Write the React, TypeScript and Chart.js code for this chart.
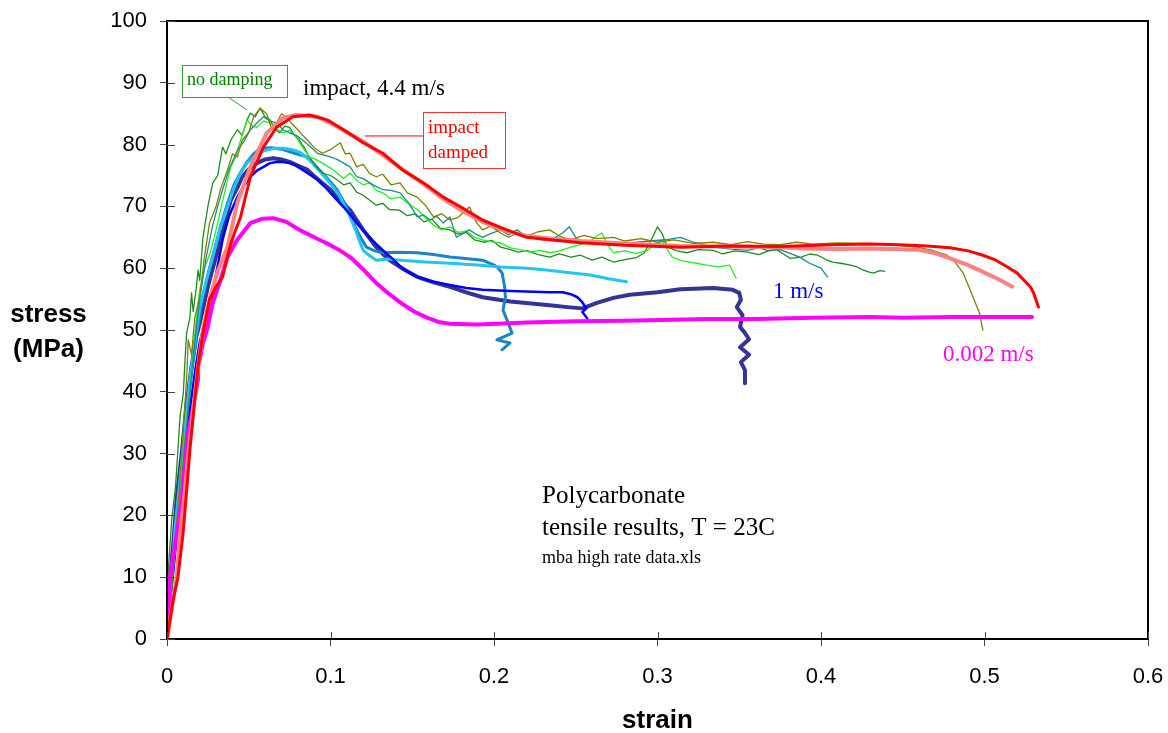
import React, { useEffect, useRef } from 'react';
import { Chart, registerables } from 'chart.js';

Chart.register(...registerables);

type P = [number, number];

// ---- data (strain, stress MPa) ----
const redDamped: P[] = [
  [0, 0], [0.0037, 6.3], [0.0067, 10], [0.0098, 17], [0.0122, 24.6], [0.014, 30.6], [0.017, 38.7], [0.019, 44],
  [0.022, 49.5], [0.026, 54.9], [0.03, 57], [0.034, 58.6], [0.038, 63], [0.041, 65.5], [0.045, 68.3], [0.051, 74.8],
  [0.059, 79.6], [0.067, 82.8], [0.077, 84.5], [0.087, 84.8], [0.098, 84], [0.108, 82.4], [0.12, 80.3], [0.132, 78.6],
  [0.144, 75.9], [0.157, 73.8], [0.169, 71.5], [0.181, 69.7], [0.193, 67.8], [0.205, 66.5], [0.22, 65], [0.234, 64.6],
  [0.253, 64.1], [0.28, 63.7], [0.314, 63.4], [0.345, 63.6], [0.375, 63.5], [0.407, 63.8], [0.43, 63.9], [0.448, 63.8],
  [0.465, 63.6], [0.479, 63.3], [0.49, 62.8], [0.499, 62.1], [0.507, 61.3], [0.514, 60.2], [0.52, 59.2], [0.524, 58.1],
  [0.528, 57], [0.53, 56], [0.532, 54.5], [0.533, 53.7],
];

const salmonDamped: P[] = [
  [0, 0], [0.003, 5], [0.006, 10], [0.008, 17], [0.011, 24], [0.013, 30], [0.016, 37], [0.019, 44], [0.022, 50],
  [0.026, 55], [0.031, 59.5], [0.037, 63.4], [0.043, 70.6], [0.051, 76.4], [0.061, 81.9], [0.071, 84.3], [0.079, 84.8],
  [0.092, 84.5], [0.1, 83.5], [0.11, 82], [0.12, 80.5], [0.132, 78.3], [0.144, 76], [0.157, 73.6], [0.169, 71.2],
  [0.181, 69.2], [0.193, 67.5], [0.205, 66.2], [0.22, 65.2], [0.234, 64.8], [0.253, 64.4], [0.28, 64], [0.314, 63.6],
  [0.345, 63.5], [0.375, 63.4], [0.39, 63.2], [0.41, 63.1], [0.428, 63.2], [0.445, 63.1], [0.459, 63], [0.47, 62.4],
  [0.479, 61.6], [0.49, 60.5], [0.499, 59.4], [0.508, 58.3], [0.517, 57],
];

const darkGreen: P[] = [
  [0, 0], [0.001, 6], [0.001, 12], [0.003, 19.7], [0.005, 24], [0.006, 27.8], [0.008, 36], [0.01, 39.8], [0.011, 45],
  [0.012, 49.5], [0.014, 52], [0.015, 56], [0.016, 53], [0.018, 57], [0.019, 59.7], [0.02, 58], [0.022, 65], [0.025, 70],
  [0.028, 73.8], [0.031, 75], [0.034, 79.6], [0.036, 78.5], [0.039, 80.7], [0.043, 82.4], [0.046, 81.5], [0.049, 84],
  [0.051, 85.1], [0.054, 84.5], [0.057, 85.9], [0.06, 84.5], [0.063, 84], [0.066, 82.5], [0.069, 81.9], [0.072, 83],
  [0.075, 82.8], [0.078, 81.5], [0.081, 80.7], [0.084, 79.5], [0.087, 78], [0.091, 76.5], [0.095, 75.4], [0.1, 75],
  [0.104, 74.3], [0.108, 73.5], [0.112, 73.8], [0.116, 72.3], [0.12, 71.8], [0.124, 71], [0.128, 70.2], [0.132, 70.5],
  [0.136, 69.5], [0.142, 69.4], [0.147, 68.5], [0.152, 68.8], [0.157, 67.5], [0.162, 67.9], [0.167, 66.5], [0.173, 66.2],
  [0.178, 65.5], [0.183, 65.8], [0.188, 64.6], [0.194, 64.2], [0.199, 64.5], [0.204, 63.4], [0.21, 63], [0.215, 62.6],
  [0.22, 62.9], [0.227, 62.2], [0.234, 61.8], [0.24, 62.3], [0.247, 61.8], [0.253, 62.1], [0.26, 61.3], [0.266, 61.8],
  [0.273, 61], [0.28, 61.4], [0.287, 61.7], [0.292, 62.5], [0.297, 65], [0.3, 66.7], [0.303, 65.5], [0.306, 63.4],
  [0.312, 62.8], [0.318, 62.5], [0.325, 63], [0.334, 62.9], [0.34, 62.3], [0.347, 62.8], [0.355, 62.6], [0.362, 62.2],
  [0.368, 62.8], [0.373, 63], [0.377, 62.3], [0.381, 61.6], [0.388, 61.8], [0.393, 62.3], [0.398, 62.1], [0.403, 61.4],
  [0.407, 61], [0.412, 60.8], [0.418, 60.5], [0.422, 60.2], [0.426, 59.7], [0.429, 59.4], [0.432, 59.2], [0.436, 59.6],
  [0.439, 59.5],
];

const brightGreen: P[] = [
  [0, 0], [0.002, 5], [0.004, 12], [0.007, 20], [0.01, 30], [0.013, 38], [0.016, 46], [0.018, 52], [0.02, 56.5],
  [0.023, 60], [0.027, 63], [0.031, 67.3], [0.035, 72], [0.039, 76.4], [0.042, 78], [0.045, 80.7], [0.049, 84],
  [0.052, 83], [0.055, 82.8], [0.059, 83.8], [0.063, 83.5], [0.067, 82.5], [0.071, 81.9], [0.075, 82.3], [0.079, 81.2],
  [0.083, 79.5], [0.087, 78], [0.091, 77.6], [0.095, 77], [0.1, 76.2], [0.104, 75.4], [0.108, 74.5], [0.112, 75.4],
  [0.116, 74.2], [0.12, 73.5], [0.124, 73.8], [0.128, 72.6], [0.132, 72.2], [0.137, 71.2], [0.1425, 71.5], [0.148, 70.4],
  [0.153, 69.5], [0.158, 68.2], [0.163, 67], [0.168, 66.2], [0.173, 66.7], [0.178, 65.8], [0.183, 66], [0.188, 65],
  [0.193, 64.6], [0.198, 64.3], [0.204, 64.1], [0.21, 63.3], [0.216, 63], [0.222, 62.6], [0.228, 62.9], [0.234, 62.5],
  [0.24, 62.8], [0.247, 63.4], [0.253, 63.8], [0.258, 64.2], [0.263, 65.2], [0.266, 65.7], [0.269, 64], [0.273, 62.5],
  [0.28, 62.8], [0.287, 62.4], [0.294, 62.9], [0.298, 63.8], [0.303, 64.5], [0.306, 63], [0.309, 61.8], [0.315, 61.2],
  [0.324, 60.8], [0.33, 60.5], [0.338, 60.2], [0.344, 60.5], [0.346, 59.5], [0.348, 58.4],
];

const olive: P[] = [
  [0, 0], [0.002, 6], [0.004, 13], [0.007, 22.5], [0.009, 30], [0.01, 34.3], [0.012, 42], [0.013, 48.4], [0.015, 46],
  [0.017, 52], [0.02, 55.3], [0.023, 62], [0.026, 67.3], [0.03, 70], [0.033, 73], [0.037, 75.9], [0.04, 78.5], [0.043, 78],
  [0.046, 80.7], [0.05, 82], [0.053, 84.5], [0.057, 85.9], [0.061, 85], [0.064, 82.5], [0.067, 83.5], [0.07, 85],
  [0.073, 84.5], [0.076, 83.5], [0.08, 82.4], [0.083, 81.5], [0.086, 80.7], [0.09, 79.5], [0.095, 78.6], [0.1, 79.2],
  [0.106, 80.3], [0.109, 78.5], [0.112, 78.6], [0.116, 76.4], [0.12, 76.8], [0.124, 75.3], [0.128, 74.8], [0.132, 75.2],
  [0.137, 73.5], [0.1425, 73.8], [0.147, 72.2], [0.153, 71.5], [0.158, 70.2], [0.163, 68.3], [0.168, 68.8], [0.173, 67.8],
  [0.178, 68.2], [0.185, 69.9], [0.189, 67.5], [0.193, 66.2], [0.198, 66.8], [0.204, 65.7], [0.209, 65], [0.214, 65.7],
  [0.22, 65.2], [0.227, 65.9], [0.234, 66.2], [0.24, 65.2], [0.247, 64.6], [0.255, 65.3], [0.263, 64.8], [0.273, 65],
  [0.28, 64.4], [0.29, 64.8], [0.3, 64.2], [0.31, 64.6], [0.322, 64], [0.334, 64.2], [0.345, 63.8], [0.355, 64.3],
  [0.365, 63.9], [0.375, 63.8], [0.385, 64.2], [0.395, 63.9], [0.41, 64.1], [0.428, 64], [0.44, 63.8], [0.45, 63.6],
  [0.459, 63.4], [0.468, 62.9], [0.477, 62.1], [0.482, 61], [0.487, 59.2], [0.49, 57.3], [0.493, 55.3], [0.497, 52.7],
  [0.499, 50],
];

const teal: P[] = [
  [0, 0], [0.002, 6], [0.005, 14], [0.008, 22], [0.011, 32], [0.014, 40], [0.017, 48], [0.02, 55], [0.024, 61.8],
  [0.028, 67], [0.031, 70], [0.034, 72.7], [0.038, 76], [0.043, 79.1], [0.047, 80.5], [0.051, 82.4], [0.055, 83.5],
  [0.059, 84.5], [0.063, 83.8], [0.067, 83.5], [0.071, 82.4], [0.075, 81.9], [0.079, 81.5], [0.083, 80.7], [0.087, 79.8],
  [0.092, 78.6], [0.096, 78.3], [0.1, 78], [0.104, 77.6], [0.108, 77], [0.112, 76.4], [0.116, 74.8], [0.12, 74.5],
  [0.124, 73.8], [0.128, 73.2], [0.132, 72.7], [0.137, 72.6], [0.1425, 72.2], [0.148, 70.5], [0.153, 68.3], [0.157, 68.6],
  [0.161, 67.8], [0.165, 68.4], [0.169, 67.3], [0.173, 68.3], [0.177, 65], [0.181, 65.6], [0.185, 66.2], [0.189, 65.5],
  [0.193, 65], [0.198, 65.6], [0.204, 66.2], [0.209, 65.4], [0.214, 66.2], [0.219, 65.3], [0.224, 65], [0.229, 64.6],
  [0.234, 64.6], [0.239, 65.2], [0.242, 65.7], [0.246, 66.7], [0.25, 65], [0.253, 64.1], [0.26, 64.5], [0.27, 63.8],
  [0.283, 64.1], [0.295, 64.4], [0.305, 64.6], [0.314, 65], [0.322, 64.2], [0.334, 63.4], [0.345, 63.1], [0.355, 62.9],
  [0.362, 63.3], [0.367, 62.9], [0.375, 63], [0.381, 62.4], [0.387, 61.8], [0.393, 60.8], [0.4, 60], [0.402, 59.3],
  [0.404, 58.6],
];

const cyan: P[] = [
  [0, 0], [0.001, 5], [0.003, 10], [0.005, 18], [0.008, 26], [0.011, 34], [0.014, 42], [0.017, 48], [0.02, 53.7],
  [0.024, 58], [0.028, 61.8], [0.032, 66], [0.037, 69.9], [0.041, 73], [0.045, 75.4], [0.049, 77], [0.053, 78],
  [0.057, 78.8], [0.061, 79.1], [0.066, 79.4], [0.071, 79.4], [0.076, 79.2], [0.081, 78.8], [0.085, 78], [0.089, 77],
  [0.093, 75.8], [0.098, 74.3], [0.102, 73], [0.106, 71.5], [0.109, 69.8], [0.112, 68.3], [0.114, 67], [0.116, 65.7],
  [0.118, 64.2], [0.12, 62.9], [0.124, 62], [0.128, 61.3], [0.135, 61.5], [0.143, 61.3], [0.158, 61], [0.173, 60.8],
  [0.19, 60.5], [0.204, 60.2], [0.22, 60], [0.232, 59.7], [0.245, 59.3], [0.259, 58.9], [0.27, 58.3], [0.281, 57.8],
];

const steelBlue: P[] = [
  [0, 0], [0.001, 5], [0.003, 12], [0.006, 20], [0.009, 28], [0.012, 36], [0.015, 43], [0.018, 49], [0.021, 54],
  [0.025, 59], [0.029, 63], [0.033, 67], [0.037, 70.5], [0.041, 73.5], [0.045, 75.5], [0.049, 77.2], [0.053, 78.5],
  [0.057, 79.4], [0.064, 79.5], [0.071, 79.2], [0.078, 78.6], [0.086, 78], [0.09, 76.8], [0.095, 75.4], [0.1, 74],
  [0.104, 72.7], [0.107, 71.3], [0.11, 69.9], [0.113, 68], [0.116, 66.2], [0.119, 64.7], [0.122, 63.4], [0.127, 62.8],
  [0.132, 62.5], [0.141, 62.6], [0.153, 62.5], [0.163, 62.2], [0.173, 61.8], [0.181, 61.6], [0.193, 61.3], [0.2, 60.5],
  [0.202, 60.2], [0.205, 59.2], [0.2065, 57], [0.207, 55.3], [0.2055, 53.2], [0.208, 51.6], [0.211, 49.5], [0.2018, 48.4],
  [0.2098, 47.9], [0.2049, 46.8],
];

const blue: P[] = [
  [0, 0], [0.002, 6], [0.005, 14], [0.008, 22], [0.011, 30], [0.014, 37], [0.017, 43], [0.02, 48], [0.023, 51],
  [0.026, 53.7], [0.03, 59], [0.034, 64.6], [0.038, 68.5], [0.043, 71.5], [0.047, 73.3], [0.051, 74.8], [0.055, 75.8],
  [0.059, 76.4], [0.063, 77], [0.067, 77.2], [0.071, 77.2], [0.075, 77], [0.079, 76.6], [0.083, 75.9], [0.087, 75.2],
  [0.092, 74.3], [0.096, 73.3], [0.1, 72.2], [0.104, 71], [0.108, 69.9], [0.112, 68.7], [0.116, 67.3], [0.12, 66.1],
  [0.124, 65], [0.128, 63.9], [0.132, 62.9], [0.138, 61.5], [0.143, 60.2], [0.148, 59.3], [0.153, 58.6], [0.163, 57.8],
  [0.173, 57.3], [0.183, 56.8], [0.193, 56.5], [0.21, 56.3], [0.234, 56.1], [0.242, 56.1], [0.247, 55.8], [0.251, 55.3],
  [0.254, 54.5], [0.2565, 53.5], [0.254, 52.9], [0.257, 51.9],
];

const navy: P[] = [
  [0, 0], [0.001, 4], [0.002, 10], [0.004, 16], [0.006, 23], [0.009, 30], [0.012, 38], [0.015, 44], [0.018, 49],
  [0.02, 51.1], [0.025, 57], [0.031, 62.9], [0.035, 67], [0.039, 71], [0.043, 73], [0.046, 74.8], [0.05, 76],
  [0.055, 77], [0.06, 77.6], [0.065, 77.8], [0.07, 77.6], [0.075, 77.2], [0.08, 76.6], [0.086, 75.9], [0.09, 74.9],
  [0.095, 73.8], [0.1, 72.7], [0.104, 71.5], [0.108, 70.5], [0.112, 69.4], [0.116, 67.8], [0.12, 66.2], [0.124, 64.8],
  [0.128, 63.4], [0.132, 62.3], [0.136, 61.3], [0.145, 59.8], [0.153, 58.6], [0.163, 57.7], [0.173, 57], [0.183, 56.1],
  [0.193, 55.3], [0.21, 54.6], [0.234, 54], [0.245, 53.7], [0.254, 53.5], [0.263, 54.4], [0.273, 55.2], [0.283, 55.7],
  [0.3, 56.1], [0.314, 56.6], [0.334, 56.8], [0.346, 56.5], [0.35, 56], [0.351, 54.9], [0.3485, 53.7], [0.352, 52.4],
  [0.3505, 50.5], [0.3535, 49.5], [0.356, 48.5], [0.3505, 47.2], [0.356, 46], [0.351, 44.8], [0.3535, 43.5], [0.3535, 41.4],
];

const magenta: P[] = [
  [0, 0], [0.0018, 10], [0.008, 20.4], [0.0098, 24.6], [0.0128, 33.3], [0.0153, 36.6], [0.019, 42], [0.019, 44],
  [0.022, 47.9], [0.0245, 50], [0.028, 54.4], [0.032, 57.5], [0.037, 61.8], [0.043, 64.6], [0.051, 67.3], [0.058, 68],
  [0.065, 68.1], [0.073, 67.5], [0.081, 66.2], [0.09, 65], [0.098, 64], [0.105, 63], [0.112, 61.8], [0.12, 59.8],
  [0.128, 57.6], [0.135, 56], [0.143, 54.4], [0.151, 53], [0.159, 52], [0.166, 51.3], [0.173, 51], [0.19, 50.9],
  [0.202, 51], [0.22, 51.2], [0.25, 51.4], [0.28, 51.5], [0.302, 51.6], [0.33, 51.8], [0.36, 51.8], [0.395, 52],
  [0.43, 52.1], [0.45, 52], [0.48, 52.1], [0.5, 52.1], [0.529, 52.1],
];

const xTicks = [0, 0.1, 0.2, 0.3, 0.4, 0.5, 0.6];
const yTicks = [0, 10, 20, 30, 40, 50, 60, 70, 80, 90, 100];

// series styling (kept apart from the values)
const seriesStyle = [
  { data: redDamped, color: '#FF0000', width: 3 },
  { data: salmonDamped, color: '#FF8080', width: 4 },
  { data: magenta, color: '#FF00FF', width: 4 },
  { data: olive, color: '#808000', width: 1.3 },
  { data: teal, color: '#1A8C8C', width: 1.3 },
  { data: brightGreen, color: '#22EE22', width: 1.3 },
  { data: darkGreen, color: '#1E8C1E', width: 1.3 },
  { data: blue, color: '#0000FF', width: 2.5 },
  { data: cyan, color: '#22C4F4', width: 3 },
  { data: steelBlue, color: '#1A84C4', width: 3 },
  { data: navy, color: '#333399', width: 4 },
];

// annotation texts (positions in data units)
const labels = [
  { text: 'impact, 4.4 m/s', x: 0.0832, y: 88.0, color: '#000000', size: 23 },
  { text: '1 m/s', x: 0.3706, y: 55.2, color: '#0000FF', size: 23 },
  { text: '0.002 m/s', x: 0.4746, y: 45.0, color: '#FF00FF', size: 23 },
  { text: 'Polycarbonate', x: 0.2294, y: 22.0, color: '#000000', size: 25 },
  { text: 'tensile results, T = 23C', x: 0.2294, y: 16.8, color: '#000000', size: 25 },
  { text: 'mba high rate data.xls', x: 0.2294, y: 12.3, color: '#000000', size: 18 },
  { text: 'no damping', x: 0.0122, y: 89.6, color: '#008000', size: 18 },
  { text: 'impact', x: 0.1596, y: 81.9, color: '#FF0000', size: 19 },
  { text: 'damped', x: 0.1596, y: 77.8, color: '#FF0000', size: 19 },
];
const boxes = [
  { x1: 0.0092, x2: 0.0734, y1: 92.9, y2: 87.7, color: '#33A033' },
  { x1: 0.1566, x2: 0.2067, y1: 85.3, y2: 76.2, color: '#FF3030' },
];
const leaders = [
  { x1: 0.0373, y1: 87.7, x2: 0.0489, y2: 85.6, color: '#33A033' },
  { x1: 0.1211, y1: 81.4, x2: 0.1566, y2: 81.4, color: '#FF0000' },
];

const SANS = '"Liberation Sans", Arial, sans-serif';
const SERIF = '"Liberation Serif", "Times New Roman", serif';

const overlay = {
  id: 'overlay',
  afterDraw(chart: any) {
    const { ctx, chartArea: a, scales } = chart;
    const xs = scales.x;
    const ys = scales.y;
    const px = (v: number) => xs.getPixelForValue(v);
    const py = (v: number) => ys.getPixelForValue(v);
    ctx.save();
    // frame
    ctx.strokeStyle = '#000';
    ctx.lineWidth = 2;
    ctx.strokeRect(a.left, a.top, a.right - a.left, a.bottom - a.top);
    // inner halves of the crossing tick marks
    ctx.strokeStyle = '#444';
    ctx.lineWidth = 1;
    xTicks.forEach((t) => {
      const x = Math.round(px(t)) + 0.5;
      ctx.beginPath();
      ctx.moveTo(x, a.bottom);
      ctx.lineTo(x, a.bottom - 7);
      ctx.stroke();
    });
    yTicks.forEach((t) => {
      const y = Math.round(py(t)) + 0.5;
      ctx.beginPath();
      ctx.moveTo(a.left, y);
      ctx.lineTo(a.left + 8, y);
      ctx.stroke();
    });
    // boxes and leader lines
    boxes.forEach((b) => {
      ctx.strokeStyle = b.color;
      ctx.lineWidth = 1;
      const x1 = Math.round(px(b.x1)) + 0.5;
      const y1 = Math.round(py(b.y1)) + 0.5;
      const x2 = Math.round(px(b.x2)) + 0.5;
      const y2 = Math.round(py(b.y2)) + 0.5;
      ctx.strokeRect(x1, y1, x2 - x1, y2 - y1);
    });
    leaders.forEach((l) => {
      ctx.strokeStyle = l.color;
      ctx.lineWidth = 1;
      ctx.beginPath();
      ctx.moveTo(px(l.x1), py(l.y1));
      ctx.lineTo(px(l.x2), py(l.y2));
      ctx.stroke();
    });
    // texts
    ctx.textBaseline = 'alphabetic';
    ctx.textAlign = 'left';
    labels.forEach((t) => {
      ctx.fillStyle = t.color;
      ctx.font = `${t.size}px ${SERIF}`;
      ctx.fillText(t.text, px(t.x), py(t.y));
    });
    // axis titles
    ctx.fillStyle = '#000';
    ctx.font = `bold 26px ${SANS}`;
    ctx.textAlign = 'center';
    ctx.fillText('stress', a.left - 118.5, a.top + 301);
    ctx.fillText('(MPa)', a.left - 118.5, a.top + 336);
    ctx.fillText('strain', (a.left + a.right) / 2, a.bottom + 89);
    ctx.restore();
  },
};

export default function App() {
  const ref = useRef<HTMLCanvasElement | null>(null);
  useEffect(() => {
    if (!ref.current) return;
    const chart = new Chart(ref.current, {
      type: 'scatter',
      data: {
        datasets: seriesStyle.map((s) => ({
          data: s.data.map(([x, y]) => ({ x, y })),
          showLine: true,
          borderColor: s.color,
          backgroundColor: s.color,
          borderWidth: s.width,
          pointRadius: 0,
          tension: 0,
          borderJoinStyle: 'round',
          borderCapStyle: 'round',
          fill: false,
        })),
      },
      options: {
        animation: false,
        responsive: false,
        devicePixelRatio: 1,
        events: [],
        layout: { padding: { top: 21, right: 20, left: 0, bottom: 0 } },
        plugins: { legend: { display: false }, tooltip: { enabled: false } },
        scales: {
          x: {
            type: 'linear',
            min: 0,
            max: 0.6,
            afterFit: (s: any) => {
              s.height = 94;
              s.paddingLeft = 0;
              s.paddingRight = 0;
            },
            afterBuildTicks: (s: any) => { s.ticks = xTicks.map((v) => ({ value: v })); },
            ticks: {
              font: { family: SANS, size: 22 },
              color: '#000',
              padding: 18,
              maxRotation: 0,
              autoSkip: false,
              callback: (v: any) => String(+Number(v).toFixed(1)),
            },
            grid: { drawOnChartArea: false, drawTicks: true, tickLength: 7, color: '#444', lineWidth: 1 },
            border: { display: true, color: '#000', width: 2 },
          },
          y: {
            type: 'linear',
            min: 0,
            max: 100,
            afterFit: (s: any) => {
              s.width = 167;
              s.paddingTop = 0;
              s.paddingBottom = 0;
            },
            afterBuildTicks: (s: any) => { s.ticks = yTicks.map((v) => ({ value: v })); },
            ticks: {
              font: { family: SANS, size: 22 },
              color: '#000',
              padding: 13,
              autoSkip: false,
              callback: (v: any) => String(v),
            },
            grid: { drawOnChartArea: false, drawTicks: true, tickLength: 7, color: '#444', lineWidth: 1 },
            border: { display: true, color: '#000', width: 2 },
          },
        },
      },
      plugins: [overlay],
    } as any);
    return () => chart.destroy();
  }, []);
  return (
    <div style={{ position: 'absolute', left: 0, top: 0, width: 1168, height: 733, background: '#fff' }}>
      <canvas ref={ref} width={1168} height={733} style={{ width: 1168, height: 733, display: 'block' }} />
    </div>
  );
}
